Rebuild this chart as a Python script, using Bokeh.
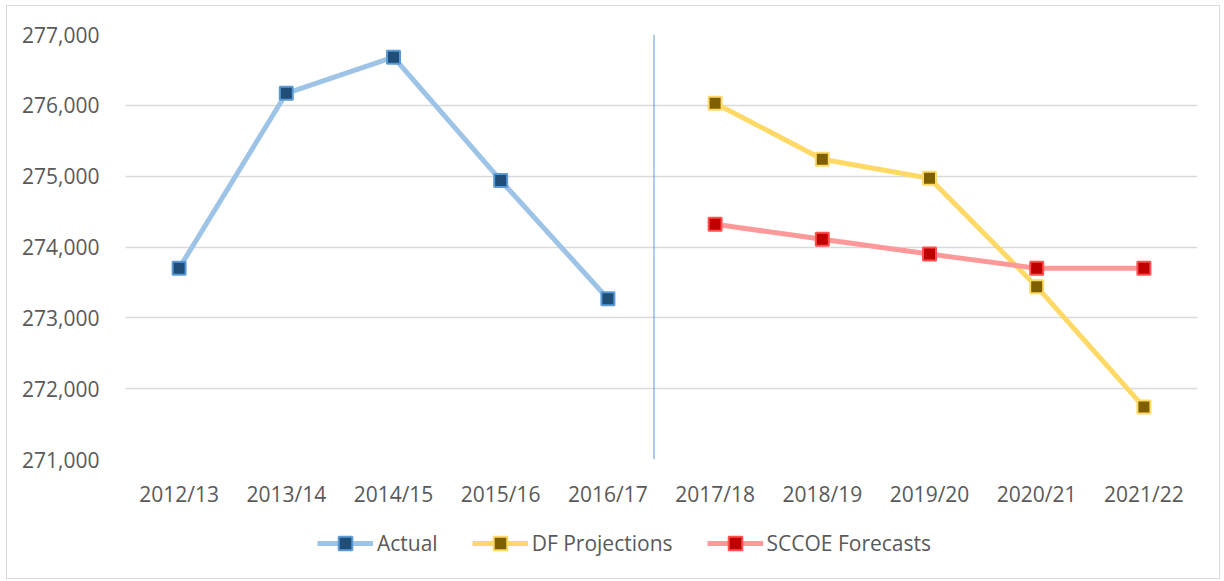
from bokeh.plotting import figure
from bokeh.layouts import column
from bokeh.models import FixedTicker, NumeralTickFormatter, Span, Legend, LegendItem
from bokeh.embed import file_html
from bokeh.resources import INLINE

years = ["2012/13", "2013/14", "2014/15", "2015/16", "2016/17",
         "2017/18", "2018/19", "2019/20", "2020/21", "2021/22"]
actual_idx = [0, 1, 2, 3, 4]
actual = [273700, 276170, 276680, 274940, 273270]
proj_idx = [5, 6, 7, 8, 9]
df_proj = [276030, 275240, 274970, 273440, 271740]
sccoe = [274320, 274110, 273900, 273700, 273700]
y_ticks = [271000, 272000, 273000, 274000, 275000, 276000, 277000]
series_names = ["Actual", "DF Projections", "SCCOE Forecasts"]
divider_at = 4.43

FONT = "Open Sans"
TXT = "#595959"
LINE_COLORS = ["#9DC3E6", "#FFD966", "#FF9999"]
FILL_COLORS = ["#1F4E79", "#7F6000", "#C00000"]
EDGE_COLORS = ["#5B9BD5", "#FFD966", "#FF5050"]

p = figure(width=1212, height=514, output_backend="svg", toolbar_location=None,
           x_range=(-0.5, 9.5), y_range=(271000, 277000),
           min_border_left=118, min_border_right=22, min_border_top=28, min_border_bottom=61)
p.outline_line_color = None
p.background_fill_color = "white"

p.xaxis.ticker = FixedTicker(ticks=list(range(len(years))))
p.xaxis.major_label_overrides = {i: y for i, y in enumerate(years)}
p.yaxis.ticker = FixedTicker(ticks=y_ticks)
p.yaxis.formatter = NumeralTickFormatter(format="0,0")
for ax in (p.xaxis, p.yaxis):
    ax.axis_line_color = None
    ax.major_tick_line_color = None
    ax.minor_tick_line_color = None
    ax.major_label_text_font = FONT
    ax.major_label_text_font_size = "21px"
    ax.major_label_text_color = TXT
p.yaxis.major_label_standoff = 20
p.xaxis.major_label_standoff = 14
p.xgrid.grid_line_color = None
p.ygrid.grid_line_color = "#d9d9d9"
p.ygrid.grid_line_width = 1.5

p.add_layout(Span(location=divider_at, dimension="height", line_color="#5B9BD5", line_width=1))

data = [(actual_idx, actual), (proj_idx, df_proj), (proj_idx, sccoe)]
for (xs, ys), lc, fc, ec in zip(data, LINE_COLORS, FILL_COLORS, EDGE_COLORS):
    p.line(xs, ys, line_color=lc, line_width=5)
    p.scatter(xs, ys, marker="square", size=13, fill_color=fc, line_color=ec, line_width=2)

# legend strip below the chart (same series drawn off-view so that legend glyphs render)
q = figure(width=1212, height=58, output_backend="svg", toolbar_location=None,
           x_range=(-0.5, 9.5), y_range=(0, 1), min_border_left=118, min_border_right=22,
           min_border_top=0, min_border_bottom=12)
q.axis.visible = False
q.grid.visible = False
q.outline_line_color = None
items = []
for name, (xs, ys), lc, fc, ec in zip(series_names, data, LINE_COLORS, FILL_COLORS, EDGE_COLORS):
    lr = q.line(xs, ys, line_color=lc, line_width=5)
    mr = q.scatter(xs, ys, marker="square", size=13, fill_color=fc, line_color=ec, line_width=2)
    items.append(LegendItem(label=name, renderers=[lr, mr]))
legend = Legend(items=items, orientation="horizontal", location=(192, 6),
                label_text_font=FONT, label_text_font_size="21px", label_text_color=TXT,
                glyph_width=56, glyph_height=34, label_standoff=4, spacing=34,
                background_fill_alpha=0, border_line_color=None, padding=0, margin=0)
q.add_layout(legend, "center")

layout = column(p, q, spacing=0)
layout.styles = {"border": "1px solid #d9d9d9", "margin": "5px 0 0 6px"}

open("out.html", "w").write(file_html(layout, INLINE))
